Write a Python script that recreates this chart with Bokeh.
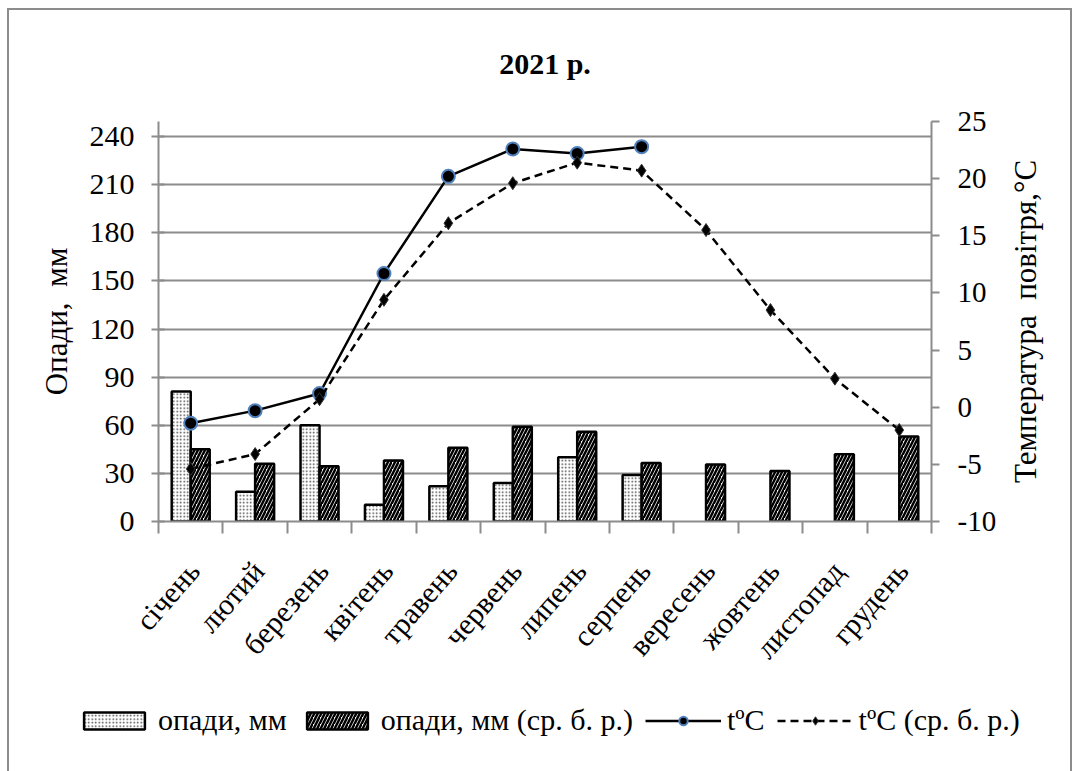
import math
import numpy as np
from bokeh.plotting import figure
from bokeh.layouts import row, column
from bokeh.models import (Range1d, LinearAxis, FixedTicker, Legend, LegendItem,
                          ColumnDataSource, Title)
from bokeh.core.properties import value
from bokeh.embed import file_html
from bokeh.resources import INLINE

# ---------------- data ----------------
months = ["січень", "лютий", "березень", "квітень", "травень", "червень",
          "липень", "серпень", "вересень", "жовтень", "листопад", "грудень"]
precip_2021 = [81, 18.5, 60, 10.5, 22, 24, 40, 29, None, None, None, None]
precip_norm = [45, 36, 34.5, 38, 46, 59, 56, 36.5, 35.5, 31.5, 42, 53]
temp_2021 = [-1.4, -0.3, 1.2, 11.7, 20.2, 22.6, 22.2, 22.8, None, None, None, None]
temp_norm = [-5.4, -4.1, 0.7, 9.4, 16.1, 19.6, 21.4, 20.7, 15.5, 8.5, 2.5, -2.0]
precip_ticks = list(range(0, 241, 30))
temp_ticks = list(range(-10, 26, 5))

title_text = "2021 р."
left_label = "Опади,\u00a0\u00a0мм"
right_label = "Температура\u00a0\u00a0повітря,°C"
legend_labels = ["опади, мм", "опади, мм (ср. б. р.)", "tºC", "tºC (ср. б. р.)"]

FONT = "Liberation Serif"
GRID = "#8c8c8c"

# ---------------- layout constants ----------------
FR_L, FR_W, FR_T, FR_H = 158, 773, 121, 400
TOTAL_W, TOTAL_H = 1074, 771
RIGHT_PANEL = 69
AXIS_BOTTOM = 18

n = len(months)
centers = np.arange(n) + 0.5
bar_w = 0.295

def valid(vals):
    idx = [i for i, v in enumerate(vals) if v is not None]
    return idx, [vals[i] for i in idx]

i1, v1 = valid(precip_2021)
i2, v2 = valid(precip_norm)
i3, v3 = valid(temp_2021)
i4, v4 = valid(temp_norm)

src_p1 = ColumnDataSource(dict(x=centers[i1] - bar_w / 2, top=v1))
src_p2 = ColumnDataSource(dict(x=centers[i2] + bar_w / 2, top=v2))
src_t1 = ColumnDataSource(dict(x=centers[i3], y=v3))
src_t2 = ColumnDataSource(dict(x=centers[i4], y=v4))

left_top = 240 * 400 / 385.0

bar1_style = dict(fill_color="white", line_color="black", line_width=2.5,
                  hatch_pattern="dot", hatch_color="#444444", hatch_scale=3.5,
                  hatch_weight=1.5)
bar2_style = dict(fill_color="white", line_color="black", line_width=2.5,
                  hatch_pattern="right_diagonal_line", hatch_color="black",
                  hatch_scale=7, hatch_weight=2.5)
line1_style = dict(line_color="black", line_width=2.5)
mark1_style = dict(marker="circle", size=13, fill_color="black",
                   line_color="#4f81bd", line_width=2)
line2_style = dict(line_color="black", line_width=2.5, line_dash="8 5")
mark2_style = dict(marker="diamond", size=13, fill_color="black",
                   line_color="#333333", line_width=1)

# ---------------- main plot ----------------
p = figure(frame_width=FR_W, frame_height=FR_H,
           min_border_left=FR_L, min_border_right=TOTAL_W - FR_L - FR_W - RIGHT_PANEL,
           min_border_top=FR_T, min_border_bottom=AXIS_BOTTOM,
           x_range=Range1d(0, n), y_range=Range1d(0, left_top),
           output_backend="svg", toolbar_location=None,
           background_fill_color="white", border_fill_alpha=0)
p.outline_line_color = None
p.xgrid.visible = False
p.ygrid.ticker = FixedTicker(ticks=precip_ticks)
p.ygrid.grid_line_color = GRID
p.ygrid.grid_line_width = 2

p.title.text = title_text
p.title.align = "center"
p.title.text_font = FONT
p.title.text_font_size = "30px"
p.title.text_font_style = "bold"
p.title.text_color = "black"
p.title.standoff = 83

xa = p.xaxis[0]
xa.ticker = FixedTicker(ticks=list(centers), minor_ticks=list(range(0, n + 1)))
xa.major_label_overrides = {float(c): "" for c in centers}
xa.major_label_text_font_size = "1px"
xa.major_label_standoff = 0
xa.major_tick_out = 0
xa.major_tick_in = 0
xa.minor_tick_out = 12
xa.minor_tick_in = 0
xa.minor_tick_line_color = GRID
xa.minor_tick_line_width = 2
xa.axis_line_color = GRID
xa.axis_line_width = 2

ya = p.yaxis[0]
ya.ticker = FixedTicker(ticks=precip_ticks)
ya.minor_tick_line_color = None
ya.major_tick_in = 6
ya.major_tick_out = 7
ya.major_tick_line_color = GRID
ya.major_tick_line_width = 2
ya.axis_line_color = GRID
ya.axis_line_width = 2
ya.major_label_standoff = 17
ya.major_label_text_font = FONT
ya.major_label_text_font_size = "30px"
ya.major_label_text_color = "black"
ya.axis_label = left_label
ya.axis_label_text_font = FONT
ya.axis_label_text_font_size = "31px"
ya.axis_label_text_font_style = "normal"
ya.axis_label_text_color = "black"
ya.axis_label_standoff = 13

p.extra_y_ranges = {"temp": Range1d(-10, 25)}
ra = LinearAxis(y_range_name="temp", ticker=FixedTicker(ticks=temp_ticks))
ra.major_label_overrides = {t: str(t) for t in temp_ticks}
ra.minor_tick_line_color = None
ra.major_tick_in = 0
ra.major_tick_out = 8
ra.major_tick_line_color = GRID
ra.major_tick_line_width = 2
ra.axis_line_color = GRID
ra.axis_line_width = 2
ra.major_label_standoff = 18
ra.major_label_text_font = FONT
ra.major_label_text_font_size = "29px"
ra.major_label_text_color = "black"
p.add_layout(ra, "right")

p.vbar(x="x", top="top", width=bar_w, bottom=0, source=src_p1, **bar1_style)
p.vbar(x="x", top="top", width=bar_w, bottom=0, source=src_p2, **bar2_style)
p.line("x", "y", source=src_t1, y_range_name="temp", **line1_style)
p.scatter("x", "y", source=src_t1, y_range_name="temp", **mark1_style)
p.line("x", "y", source=src_t2, y_range_name="temp", **line2_style)
p.scatter("x", "y", source=src_t2, y_range_name="temp", **mark2_style)

# ---------------- right axis title panel ----------------
p2 = figure(frame_width=30, frame_height=FR_H,
            min_border_left=0, min_border_right=RIGHT_PANEL - 30 - 35,
            min_border_top=FR_T, min_border_bottom=AXIS_BOTTOM,
            x_axis_location=None, y_axis_location=None,
            output_backend="svg", toolbar_location=None,
            background_fill_alpha=0, border_fill_alpha=0)
p2.outline_line_color = None
p2.xgrid.visible = False
p2.ygrid.visible = False
p2.add_layout(Title(text=right_label, align="center", text_font=FONT,
                    text_font_size="31px", text_font_style="normal",
                    text_color="black", standoff=0), "left")

# ---------------- month labels + legend panel ----------------
px_per_x = FR_W / n
bottom_h = TOTAL_H - FR_T - FR_H - AXIS_BOTTOM
p3 = figure(frame_width=TOTAL_W, frame_height=bottom_h,
            min_border_left=0, min_border_right=0, min_border_top=0, min_border_bottom=0,
            x_range=Range1d(-FR_L / px_per_x, n + (TOTAL_W - FR_L - FR_W) / px_per_x),
            y_range=Range1d(0, bottom_h),
            x_axis_location=None, y_axis_location=None,
            output_backend="svg", toolbar_location=None,
            background_fill_alpha=0, border_fill_alpha=0)
p3.outline_line_color = None
p3.xgrid.visible = False
p3.ygrid.visible = False

lab_src = ColumnDataSource(dict(x=centers + 3 / px_per_x,
                                y=[bottom_h - 26] * n, text=months))
p3.text(x="x", y="y", text="text", source=lab_src, angle=0.855,
        text_align="right", text_baseline="middle",
        text_font=value(FONT), text_font_size="30px", text_color="black")

# legend swatches: same series and styles, hidden renderers (legend only)
e1 = p3.vbar(x="x", top="top", width=bar_w, bottom=0, source=src_p1,
             visible=False, **bar1_style)
e2 = p3.vbar(x="x", top="top", width=bar_w, bottom=0, source=src_p2,
             visible=False, **bar2_style)
e3 = p3.line("x", "y", source=src_t1, visible=False, **line1_style)
e4 = p3.scatter("x", "y", source=src_t1, visible=False, **mark1_style)
e5 = p3.line("x", "y", source=src_t2, visible=False, **line2_style)
e6 = p3.scatter("x", "y", source=src_t2, visible=False, **mark2_style)

legend = Legend(items=[
    LegendItem(label=legend_labels[0], renderers=[e1]),
    LegendItem(label=legend_labels[1], renderers=[e2]),
    LegendItem(label=legend_labels[2], renderers=[e3, e4]),
    LegendItem(label=legend_labels[3], renderers=[e5, e6]),
], orientation="horizontal", location=(76, 34),
    glyph_width=76, glyph_height=21, label_standoff=6, spacing=12,
    padding=0, margin=0, border_line_color=None, background_fill_alpha=0,
    label_text_font=FONT, label_text_font_size="30px", label_text_color="black")
p3.add_layout(legend, "center")

g = "linear-gradient(#8c8c8c,#8c8c8c)"
layout = column(row(p, p2, spacing=0), p3, spacing=0, styles={
    "background-color": "white",
    "background-image": f"{g}, {g}, {g}",
    "background-position": "7px 8px, 7px 8px, 1070px 8px",
    "background-size": "2px 800px, 1065px 2px, 2px 800px",
    "background-repeat": "no-repeat",
})

open("out.html", "w").write(file_html(layout, INLINE))
